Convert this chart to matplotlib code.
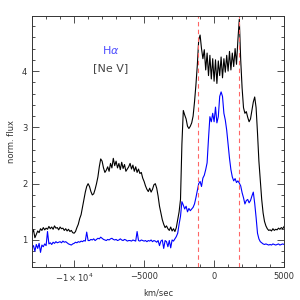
import matplotlib
matplotlib.use('Agg')
import matplotlib.pyplot as plt
import numpy as np
from matplotlib.ticker import MultipleLocator, FixedLocator, FixedFormatter

# velocity grid (km/s), one sample every 100 km/s
velocity = np.arange(-13000, 5001, 100)

# [Ne V] normalised flux (rows of 1000 km/s)
nev_flux = [
    1.12, 1.18, 1.04, 1.10, 1.16, 1.13, 1.20, 1.17, 1.22, 1.18,
    1.21, 1.19, 1.24, 1.20, 1.23, 1.19, 1.25, 1.21, 1.22, 1.18,
    1.23, 1.20, 1.21, 1.17, 1.20, 1.16, 1.19, 1.15, 1.17, 1.13,
    1.12, 1.15, 1.22, 1.28, 1.38, 1.45, 1.58, 1.72, 1.85, 1.95,
    2.00, 1.95, 1.86, 1.80, 1.82, 1.90, 2.00, 2.12, 2.30, 2.44,
    2.40, 2.28, 2.20, 2.24, 2.30, 2.22, 2.36, 2.28, 2.45, 2.32,
    2.40, 2.28, 2.36, 2.25, 2.38, 2.27, 2.34, 2.22, 2.26, 2.30,
    2.36, 2.26, 2.33, 2.22, 2.30, 2.20, 2.26, 2.18, 2.20, 2.10,
    2.04, 1.96, 1.90, 1.86, 1.92, 1.85, 1.90, 1.98, 2.00, 1.92,
    1.78, 1.60, 1.48, 1.36, 1.28, 1.22, 1.25, 1.20, 1.17, 1.23,
    1.16, 1.20, 1.15, 1.22, 1.36, 1.50, 1.72, 2.70, 3.30, 3.22,
    3.15, 3.02, 2.98, 3.02, 3.08, 3.20, 3.45, 3.75, 4.10, 4.55,
    4.64, 4.40, 4.22, 4.38, 4.02, 4.32, 3.92, 4.28, 3.86, 4.22,
    3.82, 4.20, 3.78, 4.18, 3.92, 4.25, 3.88, 4.22, 3.98, 4.28,
    4.00, 4.35, 4.02, 4.32, 4.08, 4.40, 4.12, 4.55, 4.92, 4.20,
    3.70, 3.35, 3.25, 3.28, 3.18, 3.10, 3.15, 3.30, 3.45, 3.54,
    3.35, 2.90, 2.40, 2.05, 1.72, 1.48, 1.33, 1.25, 1.20, 1.17,
    1.18, 1.16, 1.20, 1.17, 1.19, 1.18, 1.21, 1.19, 1.22, 1.20,
    1.24,
]

# H alpha normalised flux
ha_flux = [
    0.86, 0.90, 0.80, 0.92, 0.85, 0.94, 0.78, 0.91, 0.88, 0.93,
    0.90, 1.15, 0.93, 0.95, 0.92, 0.96, 0.94, 0.97, 0.95, 0.96,
    0.97, 0.95, 0.98, 0.96, 0.97, 0.95, 0.93, 0.92, 0.91, 0.93,
    0.94, 0.96, 0.95, 0.97, 0.96, 0.98, 0.97, 0.99, 0.98, 1.14,
    0.99, 0.99, 1.01, 1.00, 1.02, 0.99, 1.01, 1.03, 1.02, 1.05,
    1.03, 1.01, 1.00, 0.99, 1.01, 1.00, 1.02, 1.03, 1.01, 1.00,
    1.01, 0.99, 1.00, 1.02, 1.00, 0.99, 1.01, 1.00, 0.98, 0.99,
    0.99, 0.98, 1.00, 0.99, 0.98, 1.15, 0.99, 0.98, 1.00, 0.99,
    0.98, 0.99, 0.97, 0.99, 0.98, 1.00, 0.97, 0.99, 0.98, 0.96,
    0.99, 0.90, 0.98, 1.00, 0.85, 0.99, 0.97, 0.88, 0.99, 0.86,
    1.00, 0.98, 1.02, 1.06, 1.12, 1.28, 1.42, 1.68, 1.62, 1.55,
    1.60, 1.50, 1.56, 1.52, 1.55, 1.58, 1.64, 1.75, 1.88, 2.00,
    2.04, 1.95, 2.10, 2.15, 2.25, 2.37, 2.80, 3.19, 3.10, 3.25,
    3.10, 3.36, 3.08, 3.19, 3.55, 3.63, 3.55, 3.25, 3.13, 2.95,
    2.70, 2.45, 2.25, 2.12, 2.05, 2.09, 2.02, 2.05, 2.01, 1.96,
    1.84, 1.75, 1.64, 1.70, 1.72, 1.66, 1.70, 1.78, 1.85, 1.65,
    1.40, 1.12, 1.02, 0.97, 0.95, 0.93, 0.92, 0.93, 0.92, 0.91,
    0.92, 0.91, 0.93, 0.92, 0.91, 0.92, 0.93, 0.91, 0.92, 0.93,
    0.92,
]

# marked velocities (red dashed lines)
marker_v = [-1120, 1810]

xtick_pos = [-10000, -5000, 0, 5000]
xtick_labels = [r'$-1\times10^4$', '\u22125000', '0', '5000']

fig = plt.figure(figsize=(3, 3), dpi=100)
ax = fig.add_axes([0.107, 0.11, 0.84, 0.837])

ax.plot(velocity, nev_flux, color='black', lw=0.8)
ax.plot(velocity, ha_flux, color='#0000ff', lw=0.8)
for v in marker_v:
    ax.axvline(v, color='#ff6666', lw=0.8, ls=(0, (4, 3)))

ax.set_xlim(-13000, 5000)
ax.set_ylim(0.52, 4.98)

ax.xaxis.set_major_locator(FixedLocator(xtick_pos))
ax.xaxis.set_major_formatter(FixedFormatter(xtick_labels))
ax.xaxis.set_minor_locator(MultipleLocator(1000))
ax.yaxis.set_major_locator(MultipleLocator(1))
ax.yaxis.set_minor_locator(MultipleLocator(0.2))
ax.tick_params(which='both', direction='in', top=True, right=True,
               labelsize=6, width=0.6, colors='#333333')
ax.tick_params(which='major', length=5)
ax.tick_params(which='minor', length=2.5)
for s in ax.spines.values():
    s.set_linewidth(0.7)
    s.set_color('#333333')

ax.set_xlabel('km/sec', fontsize=6, color='#333333', labelpad=3)
ax.set_ylabel('norm. flux', fontsize=6, color='#333333', labelpad=4)

ax.text(0.313, 0.865, r'H$\alpha$', transform=ax.transAxes, fontsize=8,
        color='#4d4dff', ha='center', va='center')
ax.text(0.31, 0.793, '[Ne V]', transform=ax.transAxes, fontsize=8,
        color='#444444', ha='center', va='center')

fig.savefig('out.png', dpi=100)
